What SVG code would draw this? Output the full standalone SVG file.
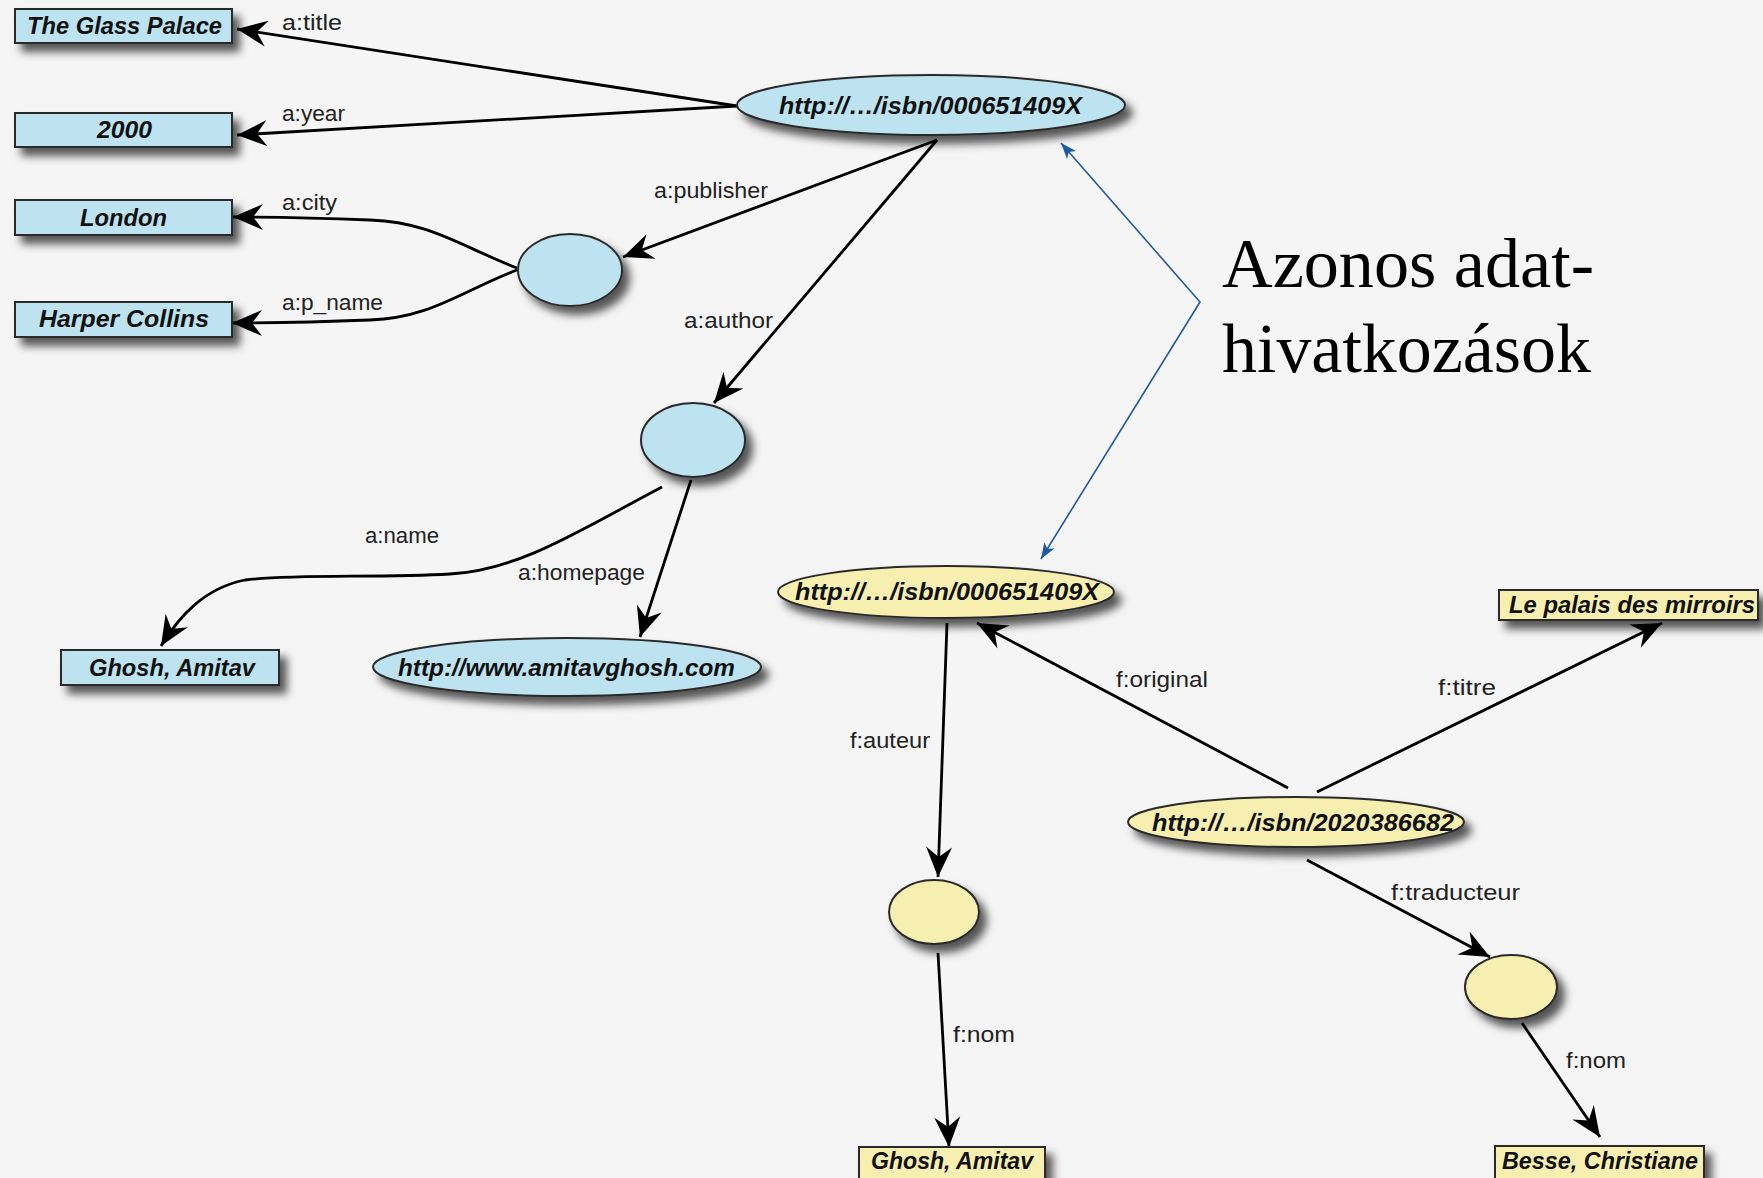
<svg xmlns="http://www.w3.org/2000/svg" width="1763" height="1178" viewBox="0 0 1763 1178">
  <style>
    .bg { fill: #f5f5f5; }
    .blue { fill: #bde3f0; stroke: #2b2b2b; stroke-width: 2; }
    .yellow { fill: #f7efb0; stroke: #2b2b2b; stroke-width: 2; }
    .node-label { font-family: "Liberation Sans", Arial, sans-serif; font-weight: bold; font-style: italic; font-size: 24px; fill: #111; text-anchor: start; }
    .edge { fill: none; stroke: #000; stroke-width: 2.8; marker-end: url(#arrow); }
    .edge-label { font-family: "Liberation Sans", Arial, sans-serif; font-size: 22px; fill: #222; }
    .link { fill: none; stroke: #1f5b9e; stroke-width: 1.6; marker-start: url(#blueArrow); marker-end: url(#blueArrow); }
    .note { font-family: "Liberation Serif", "Times New Roman", serif; font-size: 69px; fill: #000; }
  </style>
  <defs>
    <filter id="shadow" x="-20%" y="-30%" width="150%" height="190%">
      <feDropShadow dx="7" dy="8" stdDeviation="4.5" flood-color="#000" flood-opacity="0.65"/>
    </filter>
    <marker id="arrow" viewBox="-32 -15 34 30" refX="0" refY="0" markerWidth="34" markerHeight="30" markerUnits="userSpaceOnUse" orient="auto">
      <path d="M0,0 L-30,-13 L-20,0 L-30,13 Z" fill="#000"/>
    </marker>
    <marker id="blueArrow" viewBox="-18 -8 20 16" refX="0" refY="0" markerWidth="20" markerHeight="16" markerUnits="userSpaceOnUse" orient="auto-start-reverse">
      <path d="M0,0 L-16,-6 L-12,0 L-16,6 Z" fill="#1f5b9e"/>
    </marker>
  </defs>

  <rect class="bg" x="0" y="0" width="1763" height="1178"/>

  <!-- connectors -->
  <g id="connectors">
    <path class="edge" d="M737,106 L237,29"/>
    <path class="edge" d="M737,106 L237,135"/>
    <path class="edge" d="M517,268 C460,246 430,222 370,220 C320,218 270,217 233,217"/>
    <path class="edge" d="M517,270 C460,292 430,318 370,320 C320,322 270,323 232,323"/>
    <path class="edge" d="M937,140 L623,257"/>
    <path class="edge" d="M937,140 L714,403"/>
    <path class="edge" d="M662,487 C580,530 520,570 450,574 C380,578 290,574 245,580 C205,588 180,615 161,646"/>
    <path class="edge" d="M691,480 L640,637"/>
    <path class="edge" d="M947,623 L938,877"/>
    <path class="edge" d="M1288,788 L977,623"/>
    <path class="edge" d="M1317,792 L1662,623"/>
    <path class="edge" d="M1307,860 L1490,957"/>
    <path class="edge" d="M938,953 L949,1147"/>
    <path class="edge" d="M1522,1023 L1600,1137"/>
    <polyline class="link" points="1061,143 1200,302 1041,559"/>

    <text class="edge-label" x="282" y="30" textLength="60" lengthAdjust="spacingAndGlyphs">a:title</text>
    <text class="edge-label" x="282" y="121" textLength="63" lengthAdjust="spacingAndGlyphs">a:year</text>
    <text class="edge-label" x="282" y="210" textLength="55" lengthAdjust="spacingAndGlyphs">a:city</text>
    <text class="edge-label" x="282" y="310" textLength="101" lengthAdjust="spacingAndGlyphs">a:p_name</text>
    <text class="edge-label" x="654" y="198" textLength="114" lengthAdjust="spacingAndGlyphs">a:publisher</text>
    <text class="edge-label" x="684" y="328" textLength="89" lengthAdjust="spacingAndGlyphs">a:author</text>
    <text class="edge-label" x="365" y="543" textLength="74" lengthAdjust="spacingAndGlyphs">a:name</text>
    <text class="edge-label" x="518" y="580" textLength="127" lengthAdjust="spacingAndGlyphs">a:homepage</text>
    <text class="edge-label" x="850" y="748" textLength="80" lengthAdjust="spacingAndGlyphs">f:auteur</text>
    <text class="edge-label" x="1116" y="687" textLength="92" lengthAdjust="spacingAndGlyphs">f:original</text>
    <text class="edge-label" x="1438" y="695" textLength="58" lengthAdjust="spacingAndGlyphs">f:titre</text>
    <text class="edge-label" x="1391" y="900" textLength="129" lengthAdjust="spacingAndGlyphs">f:traducteur</text>
    <text class="edge-label" x="953" y="1042" textLength="62" lengthAdjust="spacingAndGlyphs">f:nom</text>
    <text class="edge-label" x="1566" y="1068" textLength="60" lengthAdjust="spacingAndGlyphs">f:nom</text>
  </g>

  <!-- English-language graph (blue) -->
  <g id="book-en">
    <ellipse class="blue" cx="931" cy="105" rx="194" ry="30" filter="url(#shadow)"/>
    <text class="node-label" x="779" y="114" textLength="303" lengthAdjust="spacingAndGlyphs">http://…/isbn/000651409X</text>
  </g>
  <g id="title-en">
    <rect class="blue" x="15" y="9" width="217" height="34" filter="url(#shadow)"/>
    <text class="node-label" x="27" y="34" textLength="195" lengthAdjust="spacingAndGlyphs">The Glass Palace</text>
  </g>
  <g id="year">
    <rect class="blue" x="15" y="113" width="217" height="34" filter="url(#shadow)"/>
    <text class="node-label" x="97" y="138" textLength="55" lengthAdjust="spacingAndGlyphs">2000</text>
  </g>
  <g id="city">
    <rect class="blue" x="15" y="200" width="217" height="35" filter="url(#shadow)"/>
    <text class="node-label" x="80" y="226" textLength="87" lengthAdjust="spacingAndGlyphs">London</text>
  </g>
  <g id="publisher-name">
    <rect class="blue" x="15" y="302" width="217" height="35" filter="url(#shadow)"/>
    <text class="node-label" x="39" y="327" textLength="170" lengthAdjust="spacingAndGlyphs">Harper Collins</text>
  </g>
  <g id="publisher">
    <ellipse class="blue" cx="570" cy="270" rx="52" ry="36" filter="url(#shadow)"/>
  </g>
  <g id="author-en">
    <ellipse class="blue" cx="693" cy="440" rx="52" ry="37" filter="url(#shadow)"/>
  </g>
  <g id="author-name-en">
    <rect class="blue" x="61" y="650" width="218" height="35" filter="url(#shadow)"/>
    <text class="node-label" x="89" y="676" textLength="166" lengthAdjust="spacingAndGlyphs">Ghosh, Amitav</text>
  </g>
  <g id="homepage">
    <ellipse class="blue" cx="567" cy="667" rx="194" ry="29" filter="url(#shadow)"/>
    <text class="node-label" x="398" y="676" textLength="337" lengthAdjust="spacingAndGlyphs">http://www.amitavghosh.com</text>
  </g>

  <!-- French-language graph (yellow) -->
  <g id="book-fr-original">
    <ellipse class="yellow" cx="946" cy="592" rx="168" ry="26" filter="url(#shadow)"/>
    <text class="node-label" x="795" y="600" textLength="304" lengthAdjust="spacingAndGlyphs">http://…/isbn/000651409X</text>
  </g>
  <g id="title-fr">
    <rect class="yellow" x="1499" y="590" width="259" height="30" filter="url(#shadow)"/>
    <text class="node-label" x="1509" y="613" textLength="246" lengthAdjust="spacingAndGlyphs">Le palais des mirroirs</text>
  </g>
  <g id="book-fr">
    <ellipse class="yellow" cx="1296" cy="822" rx="168" ry="25" filter="url(#shadow)"/>
    <text class="node-label" x="1152" y="831" textLength="302" lengthAdjust="spacingAndGlyphs">http://…/isbn/2020386682</text>
  </g>
  <g id="author-fr">
    <ellipse class="yellow" cx="934" cy="912" rx="45" ry="32" filter="url(#shadow)"/>
  </g>
  <g id="translator">
    <ellipse class="yellow" cx="1511" cy="987" rx="46" ry="32" filter="url(#shadow)"/>
  </g>
  <g id="author-name-fr">
    <rect class="yellow" x="859" y="1147" width="186" height="34" filter="url(#shadow)"/>
    <text class="node-label" x="871" y="1169" textLength="162" lengthAdjust="spacingAndGlyphs">Ghosh, Amitav</text>
  </g>
  <g id="translator-name">
    <rect class="yellow" x="1495" y="1146" width="209" height="35" filter="url(#shadow)"/>
    <text class="node-label" x="1502" y="1169" textLength="196" lengthAdjust="spacingAndGlyphs">Besse, Christiane</text>
  </g>

  <!-- annotation -->
  <g id="note">
    <text class="note" x="1222" y="287" textLength="372" lengthAdjust="spacingAndGlyphs">Azonos adat-</text>
    <text class="note" x="1222" y="372" textLength="369" lengthAdjust="spacingAndGlyphs">hivatkozások</text>
  </g>
</svg>
